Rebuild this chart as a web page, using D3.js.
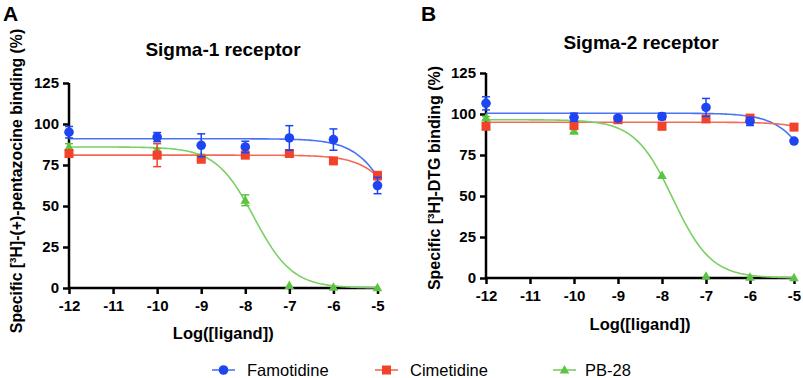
<!DOCTYPE html>
<html><head><meta charset="utf-8">
<script src="https://cdn.jsdelivr.net/npm/d3@7"></script>
<style>body{margin:0;background:#fff}svg{display:block;font-family:"Liberation Sans",Arial,sans-serif}</style>
</head><body><svg id="c" width="803" height="378"></svg>
<script>
const xDoses = [-12, -10, -9, -8, -7, -6, -5];
const xTicks = [-12, -11, -10, -9, -8, -7, -6, -5];
const yTicks = [0, 25, 50, 75, 100, 125];
const seriesNames = ["Famotidine", "Cimetidine", "PB-28"];
const seriesColors = ["#1d45f2", "#f2432a", "#5cc443"];
const lineColors = ["#4a74f7", "#f56a55", "#79d063"];

// Panel A: Sigma-1
const famA = [95, 92, 87, 86, 91.5, 90.5, 62.5];
const famAErr = [3.5, 2.8, 7, 3.5, 7.5, 6.5, 5];
const cimA = [82, 81, 78.5, 81, 82, 77.5, 68.5];
const cimAErr = [1.5, 7, 1.5, 1.5, 1.5, 0.5, 2.5];
const pbA = [86, 84, 80, 53.5, 1.5, 0.5, 0.2];
const pbAErr = [2, 1, 1.5, 3.3, 0.5, 0.3, 0.2];
// fit params: top, bottom, logIC50, hill
const fitA = [[91, 0, -4.53, 1], [81, 0, -4.28, 1], [86, 0, -7.8, 1]];

// Panel B: Sigma-2
const famB = [106.5, 98, 97.5, 98.5, 104, 95.5, 83.5];
const famBErr = [4, 2.5, 1.5, 2, 5.5, 2.5, 0.5];
const cimB = [92.5, 93, 96.5, 92.5, 97, 97.5, 92];
const cimBErr = [0.5, 0.5, 0.5, 0.5, 1, 0.5, 0.3];
const pbB = [97.5, 89.5, 96, 62.5, 1, 0.5, 0.2];
const pbBErr = [1, 1, 0.5, 0.5, 0.3, 0.3, 0.2];
const fitB = [[100.5, 0, -4.29, 1], [95, 0, -3.43, 1], [96.5, 0, -7.75, 1]];

const svg = d3.select("#c");

function logistic(p, x) { return p[1] + (p[0] - p[1]) / (1 + Math.pow(10, (x - p[2]) * p[3])); }

function panel(cfg) {
  const x = d3.scaleLinear().domain([-12, -5]).range([cfg.x0, cfg.x1]);
  const y = d3.scaleLinear().domain([0, 125]).range([cfg.y0, cfg.y1]);
  const g = svg.append("g");
  const xa = g.append("g").attr("transform", `translate(0,${cfg.y0})`)
    .call(d3.axisBottom(x).tickValues(xTicks).tickSize(6).tickFormat(d => d));
  const ya = g.append("g").attr("transform", `translate(${cfg.x0},0)`)
    .call(d3.axisLeft(y).tickValues(yTicks).tickSize(6));
  [xa, ya].forEach(a => {
    a.select(".domain").attr("stroke", "#000").attr("stroke-width", 2.5);
    a.selectAll(".tick line").attr("stroke", "#000").attr("stroke-width", 2.5);
    a.selectAll("text").attr("font-size", 15).attr("font-weight", "bold").attr("fill", "#000")
      .attr("font-family", '"Liberation Sans",Arial,sans-serif');
  });
  xa.selectAll(".domain").attr("d", `M${cfg.x0},0H${cfg.x1}`);
  ya.selectAll(".domain").attr("d", `M0,${cfg.y0}V${cfg.y1}`);
  xa.selectAll("text").attr("dy", "0.95em");
  ya.selectAll("text").attr("dx", "-1px");

  const line = d3.line().x(d => x(d[0])).y(d => y(d[1]));
  cfg.fits.forEach((p, i) => {
    const pts = d3.range(-12, -4.999, 0.05).map(v => [v, logistic(p, v)]);
    g.append("path").attr("d", line(pts)).attr("fill", "none")
      .attr("stroke", lineColors[i]).attr("stroke-width", 1.6);
  });
  [2, 1, 0].forEach(i => {
    const vals = cfg.data[i], errs = cfg.errs[i];
    const col = seriesColors[i];
    const eg = g.append("g").attr("stroke", col).attr("stroke-width", 1.5);
    xDoses.forEach((d, k) => {
      const cx = x(d), top = y(vals[k] + errs[k]), bot = y(vals[k] - errs[k]);
      if (Math.abs(bot - top) < 2) return;
      eg.append("line").attr("x1", cx).attr("x2", cx).attr("y1", top).attr("y2", bot);
      eg.append("line").attr("x1", cx - 4).attr("x2", cx + 4).attr("y1", top).attr("y2", top);
      eg.append("line").attr("x1", cx - 4).attr("x2", cx + 4).attr("y1", bot).attr("y2", bot);
    });
    xDoses.forEach((d, k) => marker(g, i, x(d), y(vals[k])));
  });
  svg.append("text").attr("x", cfg.tx).attr("y", cfg.ty).attr("text-anchor", "middle")
    .attr("font-size", 19).attr("font-weight", "bold").text(cfg.title);
  svg.append("text").attr("x", (cfg.x0 + cfg.x1) / 2).attr("y", cfg.xly).attr("text-anchor", "middle")
    .attr("font-size", 16.5).attr("font-weight", "bold").text("Log([ligand])");
  const yl = svg.append("text").attr("transform", `translate(${cfg.ylx},${cfg.yly}) rotate(-90)`)
    .attr("text-anchor", "middle").attr("font-size", cfg.ylfs).attr("font-weight", "bold");
  yl.append("tspan").text("Specific [");
  yl.append("tspan").attr("font-size", cfg.ylfs * 0.62).attr("dy", "-0.6em").text("3");
  yl.append("tspan").attr("dy", "0.4em").text(cfg.ylab);
  svg.append("text").attr("x", cfg.lx).attr("y", 21).attr("font-size", 21).attr("font-weight", "bold").text(cfg.letter);
}

function marker(g, i, cx, cy) {
  const col = seriesColors[i];
  if (i === 0) g.append("circle").attr("cx", cx).attr("cy", cy).attr("r", 4.8).attr("fill", col);
  else if (i === 1) g.append("rect").attr("x", cx - 4.5).attr("y", cy - 4.5).attr("width", 9).attr("height", 9).attr("fill", col);
  else g.append("path").attr("d", `M${cx},${cy - 5}L${cx + 4.8},${cy + 3.5}L${cx - 4.8},${cy + 3.5}Z`).attr("fill", col);
}

panel({ x0: 69, x1: 377.5, y0: 288, y1: 83, fits: fitA, data: [famA, cimA, pbA], errs: [famAErr, cimAErr, pbAErr],
  title: "Sigma-1 receptor", tx: 223, ty: 56, xly: 339, ylx: 22, yly: 181, ylfs: 15.8, ylab: "H]-(+)-pentazocine binding (%)", letter: "A", lx: 3 });
panel({ x0: 486, x1: 794, y0: 278, y1: 73, fits: fitB, data: [famB, cimB, pbB], errs: [famBErr, cimBErr, pbBErr],
  title: "Sigma-2 receptor", tx: 641, ty: 49, xly: 330, ylx: 440, yly: 178, ylfs: 16, ylab: "H]-DTG binding (%)", letter: "B", lx: 421 });

const legX = [[212, 247], [375, 410], [553, 585]];
seriesNames.forEach((n, i) => {
  const lg = svg.append("g");
  lg.append("line").attr("x1", legX[i][0]).attr("x2", legX[i][0] + 23).attr("y1", 370).attr("y2", 370)
    .attr("stroke", lineColors[i]).attr("stroke-width", 1.6);
  marker(lg, i, legX[i][0] + 11.5, 370);
  lg.append("text").attr("x", legX[i][1]).attr("y", 376).attr("font-size", 16.5).text(n);
});
</script></body></html>
